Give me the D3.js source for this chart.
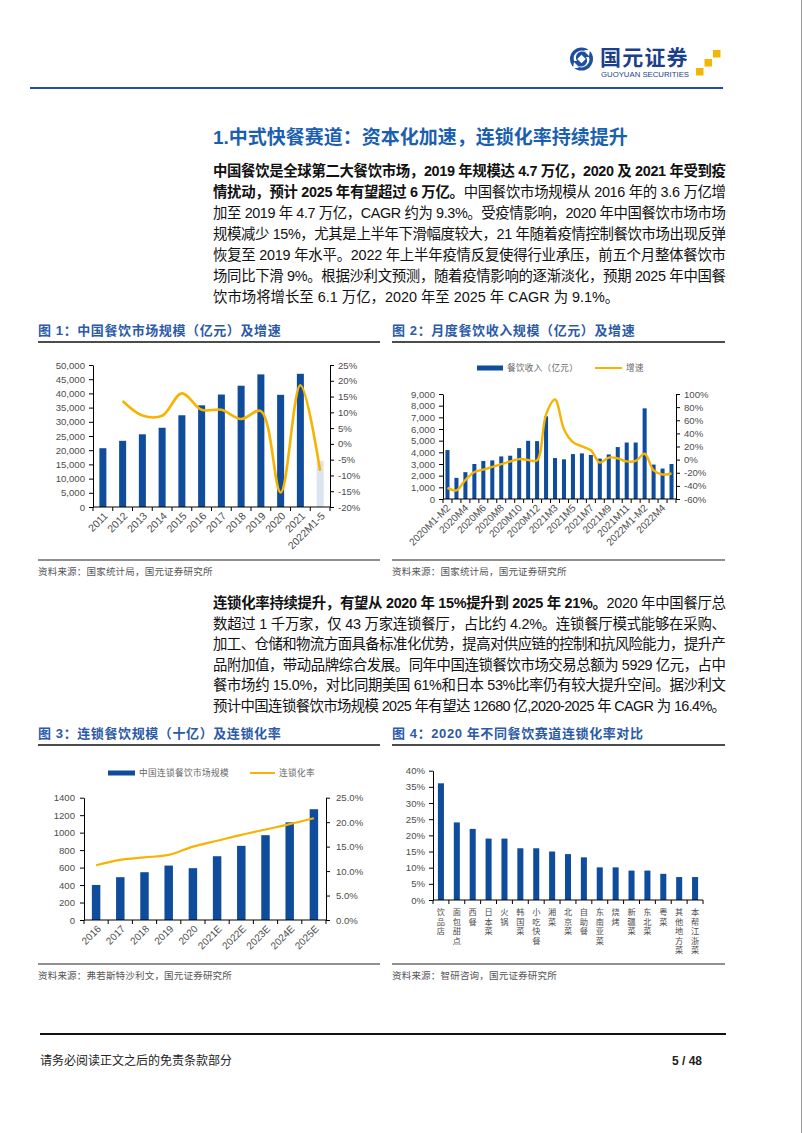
<!DOCTYPE html>
<html><head><meta charset="utf-8">
<script src="https://cdn.jsdelivr.net/npm/d3@7/dist/d3.min.js"></script>
<style>
html,body{margin:0;padding:0;background:#fff;}
svg{display:block;}
text{font-family:"Liberation Sans","Noto Sans CJK SC",sans-serif;}
</style></head><body>
<svg id="page" width="802" height="1133"></svg>
<script>
// ---------------- DATA ----------------
const c1Categories = ["2011","2012","2013","2014","2015","2016","2017","2018","2019","2020","2021","2022M1-5"];
const c1Scale = [20700, 23300, 25600, 27900, 32300, 35800, 39600, 42700, 46700, 39500, 46900, 16300];
const c1Growth = [null, 13.6, 9.0, 8.9, 16.0, 10.8, 10.8, 7.9, 10.4, -15.4, 18.6, -8.5];
const c1LeftTicks = [0,5000,10000,15000,20000,25000,30000,35000,40000,45000,50000];
const c1RightTicks = [-20,-15,-10,-5,0,5,10,15,20,25];

const c2Categories = ["2020M1-M2","2020M3","2020M4","2020M5","2020M6","2020M7","2020M8","2020M9","2020M10","2020M11","2020M12",
  "2021M1-M2","2021M3","2021M4","2021M5","2021M6","2021M7","2021M8","2021M9","2021M10","2021M11","2021M12",
  "2022M1-M2","2022M3","2022M4","2022M5"];
const c2Revenue = [4194,1810,2300,3000,3260,3310,3650,3710,4360,4990,4960,7085,3510,3400,3850,3910,3770,3460,3820,4450,4840,4840,7770,2950,2610,3000];
const c2Growth = [-43.1,-46.8,-31.1,-18.9,-15.2,-11.0,-7.0,-2.9,0.8,-0.6,-1.0,68.9,91.6,46.4,26.6,20.2,14.3,-4.5,3.1,2.0,-2.7,-1.9,8.9,-16.4,-22.7,-21.1];
const c2LeftTicks = [0,1000,2000,3000,4000,5000,6000,7000,8000,9000];
const c2RightTicks = [-60,-40,-20,0,20,40,60,80,100];
const c2Legend = ["餐饮收入（亿元）","增速"];

const c3Categories = ["2016","2017","2018","2019","2020","2021E","2022E","2023E","2024E","2025E"];
const c3Scale = [401, 490, 547, 623, 593, 730, 849, 971, 1118, 1268];
const c3Rate = [11.2, 12.3, 12.8, 13.3, 15.0, 16.2, 17.4, 18.5, 19.6, 20.8];
const c3LeftTicks = [0,200,400,600,800,1000,1200,1400];
const c3RightTicks = [0,5,10,15,20,25];
const c3Legend = ["中国连锁餐饮市场规模","连锁化率"];

const c4Categories = ["饮品店","面包甜点","西餐","日本菜","火锅","韩国菜","小吃快餐","湘菜","北京菜","自助餐","东南亚菜","烧烤","新疆菜","东北菜","粤菜","其他地方菜","本帮江浙菜"];
const c4Rate = [36.1, 24.0, 22.0, 19.0, 19.0, 16.0, 16.0, 15.0, 14.2, 13.2, 10.1, 10.1, 9.1, 9.1, 8.1, 7.1, 7.1];
const c4Ticks = [0,5,10,15,20,25,30,35,40];

// ---------------- STYLE ----------------
const BLUE = "#0f4c9c", LIGHT = "#dbe5f1", GOLD = "#f6b300", HEAD = "#2b5aa6", LBL = "#4d4d4d", INK = "#111";
const svg = d3.select("#page");

// page edge
svg.append("line").attr("x1",801.5).attr("x2",801.5).attr("y1",0).attr("y2",1133).attr("stroke","#9a9a9a").attr("stroke-width",1);

// ---------------- HEADER ----------------
const logo = svg.append("g");
logo.append("circle").attr("cx",581.5).attr("cy",59).attr("r",11.5).attr("fill","#1d4f9e");
logo.append("path").attr("d","M574,61 A8,8 0 0 1 586,52 L584,50 L590,50 L589,56 L587,54 A6,6 0 0 0 577,61 Z").attr("fill","#fff");
logo.append("path").attr("d","M589,57 A8,8 0 0 1 577,66 L579,68 L573,68 L574,62 L576,64 A6,6 0 0 0 586,57 Z").attr("fill","#fff");
logo.append("rect").attr("x",578.5).attr("y",56).attr("width",6).attr("height",6).attr("transform","rotate(45 581.5 59)").attr("fill","#fff");
logo.append("text").attr("x",600).attr("y",64.5).attr("font-size",21).attr("font-weight","bold").attr("fill","#1d3f8a").attr("letter-spacing",1.2).text("国元证券");
logo.append("text").attr("x",601).attr("y",77).attr("font-size",7.2).attr("fill","#1d3f8a").attr("textLength",88).attr("lengthAdjust","spacingAndGlyphs").text("GUOYUAN SECURITIES");
[[713,50],[704.5,59],[696,68]].forEach(p=>logo.append("rect").attr("x",p[0]).attr("y",p[1]).attr("width",7.5).attr("height",7.5).attr("fill","#f2b705"));
svg.append("line").attr("x1",30).attr("x2",723).attr("y1",88).attr("y2",88).attr("stroke","#1f4f9f").attr("stroke-width",2);

// ---------------- TITLE + TEXT ----------------
svg.append("text").attr("x",213).attr("y",144).attr("font-size",19).attr("font-weight","bold").attr("fill","#1b5fb0")
  .text("1.中式快餐赛道：资本化加速，连锁化率持续提升");

const para1 = [
  {j:true, parts:[["中国餐饮是全球第二大餐饮市场，2019 年规模达 4.7 万亿，2020 及 2021 年受到疫",1]]},
  {j:true, parts:[["情扰动，预计 2025 年有望超过 6 万亿。",1],["中国餐饮市场规模从 2016 年的 3.6 万亿增",0]]},
  {j:true, parts:[["加至 2019 年 4.7 万亿，CAGR 约为 9.3%。受疫情影响，2020 年中国餐饮市场市场",0]]},
  {j:true, parts:[["规模减少 15%，尤其是上半年下滑幅度较大，21 年随着疫情控制餐饮市场出现反弹",0]]},
  {j:true, parts:[["恢复至 2019 年水平。2022 年上半年疫情反复使得行业承压，前五个月整体餐饮市",0]]},
  {j:true, parts:[["场同比下滑 9%。根据沙利文预测，随着疫情影响的逐渐淡化，预期 2025 年中国餐",0]]},
  {j:false, parts:[["饮市场将增长至 6.1 万亿，2020 年至 2025 年 CAGR 为 9.1%。",0]]}
];
const para2 = [
  {j:true, parts:[["连锁化率持续提升，有望从 2020 年 15%提升到 2025 年 21%。",1],["2020 年中国餐厅总",0]]},
  {j:true, parts:[["数超过 1 千万家，仅 43 万家连锁餐厅，占比约 4.2%。连锁餐厅模式能够在采购、",0]]},
  {j:true, parts:[["加工、仓储和物流方面具备标准化优势，提高对供应链的控制和抗风险能力，提升产",0]]},
  {j:true, parts:[["品附加值，带动品牌综合发展。同年中国连锁餐饮市场交易总额为 5929 亿元，占中",0]]},
  {j:true, parts:[["餐市场约 15.0%，对比同期美国 61%和日本 53%比率仍有较大提升空间。据沙利文",0]]},
  {j:true, parts:[["预计中国连锁餐饮市场规模 2025 年有望达 12680 亿,2020-2025 年 CAGR 为 16.4%。",0]]}
];
function drawPara(lines, x, y0, dy, w){
  lines.forEach((ln,i)=>{
    const t = svg.append("text").attr("x",x).attr("y",y0+i*dy).attr("font-size",14.4).attr("fill",INK);
    ln.parts.forEach(p=>t.append("tspan").attr("font-weight",p[1]?"bold":"normal").text(p[0]));
    if(ln.j) t.attr("textLength",w).attr("lengthAdjust","spacing");
  });
}
drawPara(para1, 213, 176, 21, 513);
drawPara(para2, 213, 608, 20.6, 513);

// ---------------- HELPERS ----------------
function heading(x, y, x2, txt){
  svg.append("text").attr("x",x).attr("y",y).attr("font-size",13).attr("font-weight","bold").attr("fill",HEAD).attr("letter-spacing",0.6).text(txt);
  svg.append("line").attr("x1",x).attr("x2",x2).attr("y1",y+7).attr("y2",y+7).attr("stroke","#111").attr("stroke-width",1.6);
}
function source(x, y, x2, txt){
  svg.append("line").attr("x1",x).attr("x2",x2).attr("y1",y).attr("y2",y).attr("stroke","#222").attr("stroke-width",1.2);
  svg.append("text").attr("x",x).attr("y",y+15).attr("font-size",9.5).attr("fill","#555").attr("letter-spacing",0.2).text(txt);
}
function styleAxis(g){
  g.selectAll(".domain").attr("stroke","#000").attr("stroke-width",1);
  g.selectAll(".tick line").attr("stroke","#000").attr("stroke-width",1);
  g.selectAll(".tick text").attr("fill",LBL).attr("font-size",9.6).attr("font-family",'"Liberation Sans","Noto Sans CJK SC",sans-serif');
}
function xBase(x, y0){
  const r = x.range(), step = x.step();
  svg.append("line").attr("x1",r[0]).attr("x2",r[1]).attr("y1",y0).attr("y2",y0).attr("stroke","#000").attr("stroke-width",1);
  svg.append("g").selectAll("line").data(d3.range(x.domain().length+1)).join("line")
    .attr("x1",i=>r[0]+i*step).attr("x2",i=>r[0]+i*step).attr("y1",y0).attr("y2",y0+4).attr("stroke","#000");
}
function rotLabels(x, y0, labels, fs, dx){
  svg.append("g").selectAll("text").data(labels).join("text")
    .attr("transform",d=>`translate(${x(d)+x.bandwidth()/2+dx},${y0+7}) rotate(-45)`)
    .attr("text-anchor","end").attr("dy","0.35em").attr("font-size",fs).attr("fill",LBL).text(d=>d);
}

// ---------------- CHART 1 ----------------
heading(38, 335, 380, "图 1：中国餐饮市场规模（亿元）及增速");
{
  const L=93, R=330, T=365, B=507;
  const x = d3.scaleBand().domain(c1Categories).range([L,R]).paddingInner(0.645).paddingOuter(0.3225);
  const y = d3.scaleLinear().domain([0,50000]).range([B,T]);
  const yr = d3.scaleLinear().domain([-20,25]).range([B,T]);
  svg.append("g").selectAll("rect").data(c1Categories).join("rect")
    .attr("x",d=>x(d)).attr("width",x.bandwidth())
    .attr("y",(d,i)=>y(c1Scale[i])).attr("height",(d,i)=>B-y(c1Scale[i]))
    .attr("fill",(d,i)=>i===c1Categories.length-1?LIGHT:BLUE);
  const gl = svg.append("g").attr("transform",`translate(${L},0)`).call(d3.axisLeft(y).tickValues(c1LeftTicks).tickFormat(d3.format(",")).tickSizeInner(4).tickSizeOuter(0).tickPadding(4));
  styleAxis(gl);
  const gr = svg.append("g").attr("transform",`translate(${R},0)`).call(d3.axisRight(yr).tickValues(c1RightTicks).tickFormat(d=>d+"%").tickSizeInner(4).tickSizeOuter(0).tickPadding(4));
  styleAxis(gr);
  xBase(x, B);
  const pts = c1Categories.map((d,i)=>[x(d)+x.bandwidth()/2, c1Growth[i]]).filter(p=>p[1]!==null);
  svg.append("path").attr("d",d3.line().x(p=>p[0]).y(p=>yr(p[1])).curve(d3.curveCatmullRom.alpha(0.5))(pts))
    .attr("fill","none").attr("stroke",GOLD).attr("stroke-width",2.6);
  rotLabels(x, B, c1Categories, 10.5, 3);
}
source(38, 560, 380, "资料来源：国家统计局，国元证券研究所");

// ---------------- CHART 2 ----------------
heading(392, 335, 725, "图 2：月度餐饮收入规模（亿元）及增速");
{
  const L=443, R=676, T=394, B=499;
  const x = d3.scaleBand().domain(c2Categories).range([L,R]).paddingInner(0.55).paddingOuter(0.275);
  const y = d3.scaleLinear().domain([0,9000]).range([B,T]);
  const yr = d3.scaleLinear().domain([-60,100]).range([B,T]);
  // legend
  svg.append("rect").attr("x",477).attr("y",365.5).attr("width",26).attr("height",5).attr("fill",BLUE);
  svg.append("text").attr("x",507).attr("y",371).attr("font-size",8.6).attr("fill","#666").attr("letter-spacing",0.3).text(c2Legend[0]);
  svg.append("line").attr("x1",595).attr("x2",622).attr("y1",368).attr("y2",368).attr("stroke",GOLD).attr("stroke-width",2);
  svg.append("text").attr("x",626).attr("y",371).attr("font-size",8.6).attr("fill","#666").attr("letter-spacing",0.3).text(c2Legend[1]);
  svg.append("g").selectAll("rect").data(c2Categories).join("rect")
    .attr("x",d=>x(d)).attr("width",x.bandwidth())
    .attr("y",(d,i)=>y(c2Revenue[i])).attr("height",(d,i)=>B-y(c2Revenue[i])).attr("fill",BLUE);
  const gl = svg.append("g").attr("transform",`translate(${L},0)`).call(d3.axisLeft(y).tickValues(c2LeftTicks).tickFormat(d3.format(",")).tickSizeInner(4).tickSizeOuter(0).tickPadding(4));
  styleAxis(gl);
  const gr = svg.append("g").attr("transform",`translate(${R},0)`).call(d3.axisRight(yr).tickValues(c2RightTicks).tickFormat(d=>d+"%").tickSizeInner(4).tickSizeOuter(0).tickPadding(4));
  styleAxis(gr);
  xBase(x, B);
  const pts = c2Categories.map((d,i)=>[x(d)+x.bandwidth()/2, c2Growth[i]]);
  svg.append("path").attr("d",d3.line().x(p=>p[0]).y(p=>yr(p[1])).curve(d3.curveCatmullRom.alpha(0.5))(pts))
    .attr("fill","none").attr("stroke",GOLD).attr("stroke-width",2.4);
  rotLabels(x, B, c2Categories.filter((d,i)=>i%2===0), 10, 1);
}
source(392, 560, 725, "资料来源：国家统计局，国元证券研究所");

// ---------------- CHART 3 ----------------
heading(38, 738, 380, "图 3：连锁餐饮规模（十亿）及连锁化率");
{
  const L=84, R=326, T=797.7, B=920;
  const x = d3.scaleBand().domain(c3Categories).range([L,R]).paddingInner(0.65).paddingOuter(0.325);
  const y = d3.scaleLinear().domain([0,1400]).range([B,T]);
  const yr = d3.scaleLinear().domain([0,25]).range([B,T]);
  svg.append("rect").attr("x",108).attr("y",770.5).attr("width",27).attr("height",5).attr("fill",BLUE);
  svg.append("text").attr("x",139).attr("y",776).attr("font-size",8.6).attr("fill","#666").attr("letter-spacing",0.4).text(c3Legend[0]);
  svg.append("line").attr("x1",250).attr("x2",275).attr("y1",773).attr("y2",773).attr("stroke",GOLD).attr("stroke-width",2);
  svg.append("text").attr("x",279).attr("y",776).attr("font-size",8.6).attr("fill","#666").attr("letter-spacing",0.4).text(c3Legend[1]);
  svg.append("g").selectAll("rect").data(c3Categories).join("rect")
    .attr("x",d=>x(d)).attr("width",x.bandwidth())
    .attr("y",(d,i)=>y(c3Scale[i])).attr("height",(d,i)=>B-y(c3Scale[i])).attr("fill",BLUE);
  const gl = svg.append("g").attr("transform",`translate(${L},0)`).call(d3.axisLeft(y).tickValues(c3LeftTicks).tickFormat(d3.format("d")).tickSizeInner(4).tickSizeOuter(0).tickPadding(5));
  styleAxis(gl);
  const gr = svg.append("g").attr("transform",`translate(${R},0)`).call(d3.axisRight(yr).tickValues(c3RightTicks).tickFormat(d=>d3.format(".1f")(d)+"%").tickSizeInner(4).tickSizeOuter(0).tickPadding(6));
  styleAxis(gr);
  xBase(x, B);
  const pts = c3Categories.map((d,i)=>[x(d)+x.bandwidth()/2, c3Rate[i]]);
  svg.append("path").attr("d",d3.line().x(p=>p[0]).y(p=>yr(p[1])).curve(d3.curveMonotoneX)(pts))
    .attr("fill","none").attr("stroke",GOLD).attr("stroke-width",2.2);
  rotLabels(x, B, c3Categories, 10, 3);
}
source(38, 964, 380, "资料来源：弗若斯特沙利文，国元证券研究所");

// ---------------- CHART 4 ----------------
heading(392, 738, 725, "图 4：2020 年不同餐饮赛道连锁化率对比");
{
  const L=433, R=703, T=770.7, B=900;
  const x = d3.scaleBand().domain(c4Categories).range([L,R]).paddingInner(0.62).paddingOuter(0.31);
  const y = d3.scaleLinear().domain([0,40]).range([B,T]);
  svg.append("g").selectAll("rect").data(c4Categories).join("rect")
    .attr("x",d=>x(d)).attr("width",x.bandwidth())
    .attr("y",(d,i)=>y(c4Rate[i])).attr("height",(d,i)=>B-y(c4Rate[i])).attr("fill",BLUE);
  const gl = svg.append("g").attr("transform",`translate(${L},0)`).call(d3.axisLeft(y).tickValues(c4Ticks).tickFormat(d=>d+"%").tickSizeInner(4).tickSizeOuter(0).tickPadding(4));
  styleAxis(gl);
  xBase(x, B);
  const lab = svg.append("g").selectAll("text").data(c4Categories).join("text")
    .attr("font-size",8.2).attr("fill",LBL).attr("text-anchor","middle");
  lab.each(function(d){
    const t = d3.select(this), cx = x(d)+x.bandwidth()/2;
    Array.from(d).forEach((ch,k)=>t.append("tspan").attr("x",cx).attr("y",915+k*9.6).text(ch));
  });
}
source(392, 964, 725, "资料来源：智研咨询，国元证券研究所");

// ---------------- FOOTER ----------------
svg.append("line").attr("x1",40).attr("x2",726).attr("y1",1034).attr("y2",1034).attr("stroke","#111").attr("stroke-width",2);
svg.append("text").attr("x",40).attr("y",1065).attr("font-size",12).attr("fill","#222").text("请务必阅读正文之后的免责条款部分");
svg.append("text").attr("x",702).attr("y",1065).attr("font-size",12).attr("font-weight","bold").attr("fill","#222").attr("text-anchor","end").text("5 / 48");
</script>
</body></html>
